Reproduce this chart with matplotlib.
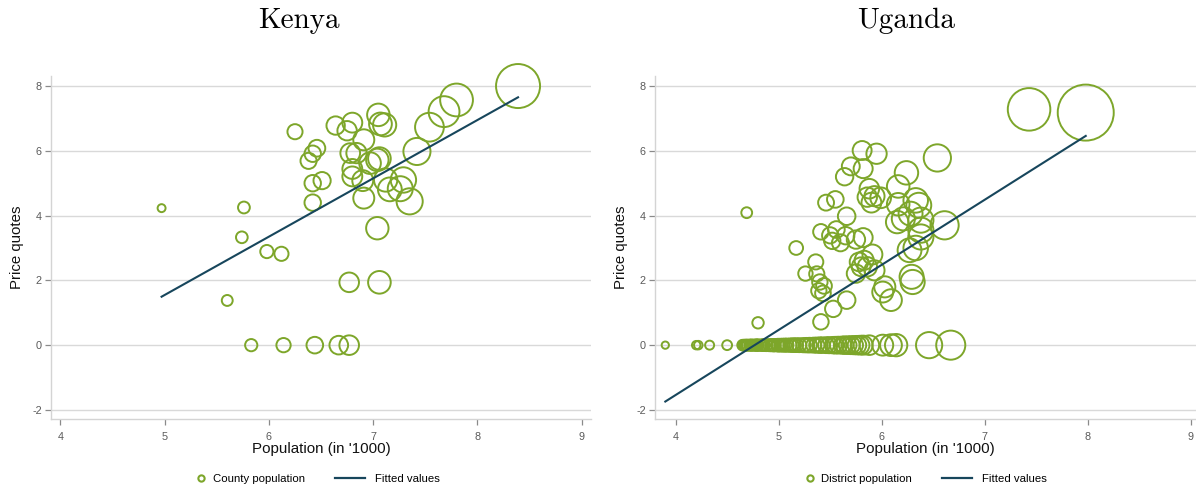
import numpy as np
import matplotlib
matplotlib.use('Agg')
from matplotlib import pyplot as plt
from matplotlib.lines import Line2D
from matplotlib.legend_handler import HandlerLine2D

# Kenya: log population (x) and price quotes (y), one point per county
kenya_pop = [4.97, 5.76, 5.74, 5.98, 6.12, 5.60, 5.83, 6.14, 6.44, 6.67,
             6.77, 6.77, 7.06, 7.04, 6.25, 6.38, 6.42, 6.46, 6.42, 6.51,
             6.42, 6.64, 6.75, 6.80, 6.91, 6.78, 6.84, 6.80, 6.80, 6.90,
             6.91, 6.97, 7.04, 7.06, 7.05, 7.07, 7.11, 7.12, 7.16, 7.29,
             7.26, 7.35, 7.42, 7.54, 7.68, 7.80, 8.39]
kenya_price = [4.23, 4.25, 3.33, 2.89, 2.82, 1.38, 0.0, 0.0, 0.0, 0.0,
               0.0, 1.94, 1.94, 3.61, 6.59, 5.69, 5.91, 6.08, 5.00, 5.08,
               4.40, 6.78, 6.62, 6.87, 6.34, 5.93, 5.93, 5.44, 5.21, 5.08,
               4.54, 5.62, 5.72, 5.76, 7.11, 6.83, 6.80, 5.10, 4.81, 5.10,
               4.83, 4.44, 5.98, 6.73, 7.21, 7.57, 8.00]
kenya_fit = (-7.45, 1.80)  # intercept, slope

# Uganda: districts with a positive price quote
uganda_pop_pos = [4.69, 4.80, 5.17, 5.41, 5.53, 5.66, 5.36, 5.26, 5.37, 5.40,
                  5.44, 5.39, 5.43, 5.41, 5.50, 5.52, 5.56, 5.60, 5.65, 5.66,
                  5.46, 5.55, 5.75, 5.82, 5.64, 5.70, 5.82, 5.81, 5.95, 5.88,
                  5.86, 5.90, 5.93, 5.99, 5.78, 5.83, 5.80, 5.75, 5.86, 5.91,
                  5.93, 6.01, 6.03, 6.09, 6.16, 6.24, 6.16, 6.15, 6.21, 6.28,
                  6.33, 6.36, 6.38, 6.38, 6.27, 6.33, 6.29, 6.30, 6.54, 6.61,
                  7.43, 7.98, 6.38]
uganda_price_pos = [4.09, 0.69, 3.00, 0.72, 1.12, 1.39, 2.57, 2.21, 2.20, 1.95,
                    1.83, 1.68, 1.60, 3.50, 3.39, 3.22, 3.57, 3.16, 3.38, 3.98,
                    4.40, 4.50, 3.26, 3.32, 5.20, 5.52, 5.45, 6.01, 5.91, 4.83,
                    4.57, 4.40, 4.60, 4.55, 2.57, 2.62, 2.42, 2.21, 2.42, 2.80,
                    2.31, 1.64, 1.80, 1.39, 4.90, 5.32, 4.35, 3.80, 3.90, 4.06,
                    4.47, 4.32, 3.86, 3.34, 2.93, 3.00, 2.11, 1.95, 5.78, 3.70,
                    7.28, 7.18, 3.55]
# Uganda: districts with no price quote (price = 0)
uganda_pop_zero = [3.90, 4.20, 4.22, 4.33, 4.50, 4.65, 4.66, 4.67, 4.68, 4.69,
                   4.70, 4.72, 4.73, 4.74, 4.76, 4.78, 4.79, 4.80, 4.83, 4.85,
                   4.86, 4.88, 4.91, 4.93, 4.95, 4.96, 4.99, 5.00, 5.02, 5.04,
                   5.06, 5.08, 5.11, 5.13, 5.15, 5.17, 5.20, 5.24, 5.27, 5.30,
                   5.34, 5.37, 5.40, 5.42, 5.46, 5.49, 5.53, 5.55, 5.58, 5.62,
                   5.64, 5.67, 5.70, 5.73, 5.76, 5.79, 5.82, 5.88, 6.01, 6.09,
                   6.14, 6.46, 6.67]
uganda_fit = (-9.58, 2.01)

titles = ['Kenya', 'Uganda']
point_labels = ['County population', 'District population']
max_radius_px = [22, 28]

GREEN = '#7da62a'
NAVY = '#17465c'
GRID = '#d9d9d9'

plt.rcParams['font.family'] = ['Liberation Sans', 'DejaVu Sans']
plt.rcParams['axes.unicode_minus'] = False


class MarkerAtEnd(HandlerLine2D):
    # legend marker sits at the right end of its handle box, close to the text
    def get_xdata(self, legend, xdescent, ydescent, width, height, fontsize):
        pos = -xdescent + width - 0.15*fontsize
        return [pos, pos], [pos]


fig = plt.figure(figsize=(11.96, 4.9), dpi=100)
ax1 = fig.add_axes([51/1196, 1-419/490, 540/1196, 343/490])
ax2 = fig.add_axes([655/1196, 1-419/490, 541/1196, 343/490])

panels = [
    (ax1, np.array(kenya_pop), np.array(kenya_price), kenya_fit, (3.909, 9.09), 0.473, 299),
    (ax2, np.array(uganda_pop_pos + uganda_pop_zero),
     np.array(uganda_price_pos + [0.0]*len(uganda_pop_zero)), uganda_fit, (3.80, 9.05), 0.479, 906),
]

for i, (ax, x, y, fit, xlim, legx, titlex) in enumerate(panels):
    # marker area weighted by population (x is log population)
    w = np.exp(x)
    smax = (2*max_radius_px[i]*0.72)**2
    ax.scatter(x, y, s=smax*w/w.max(), facecolors='none', edgecolors=GREEN,
               linewidths=1.4, clip_on=False, zorder=3)
    xs = np.array([x.min(), x.max()])
    ax.plot(xs, fit[0] + fit[1]*xs, color=NAVY, lw=1.5, zorder=4)

    ax.set_xlim(*xlim)
    ax.set_ylim(-2.28, 8.31)
    ax.set_xticks([4, 5, 6, 7, 8, 9])
    ax.set_yticks([-2, 0, 2, 4, 6, 8])
    ax.grid(axis='y', color=GRID, lw=1.0)
    ax.set_axisbelow(True)
    for s in ['top', 'right']:
        ax.spines[s].set_visible(False)
    for s in ['left', 'bottom']:
        ax.spines[s].set_color('#d4d4d4')
        ax.spines[s].set_linewidth(1.0)
    ax.tick_params(axis='both', colors='#8a8a8a', labelcolor='#5a5a5a',
                   labelsize=7.8, length=4.4, width=0.9)
    ax.tick_params(axis='x', pad=4.6)
    ax.tick_params(axis='y', pad=2.2)

    ax.set_xlabel("Population (in '1000)", fontsize=10.9, color='#111111')
    ax.set_ylabel('Price quotes', fontsize=10.8, color='#111111')
    ax.xaxis.set_label_coords(0.5, -0.066)
    ax.yaxis.set_label_coords(-0.05, 0.5)

    fig.text(titlex/1196, 1 - 21/490, titles[i],
             family='cmr10', fontsize=21, ha='center', va='center')

    handles = [
        Line2D([], [], ls='none', marker='o', markersize=4.5, mfc='none',
               mec=GREEN, mew=1.5, label=point_labels[i]),
        Line2D([], [], color=NAVY, lw=1.6, label='Fitted values'),
    ]
    ax.legend(handles=handles, loc='center', bbox_to_anchor=(legx, -0.175),
              ncol=2, frameon=False, fontsize=8.2, handlelength=2.63,
              handletextpad=0.88, columnspacing=2.63,
              handler_map={handles[0]: MarkerAtEnd(numpoints=1)})

fig.savefig('out.png', dpi=100)
